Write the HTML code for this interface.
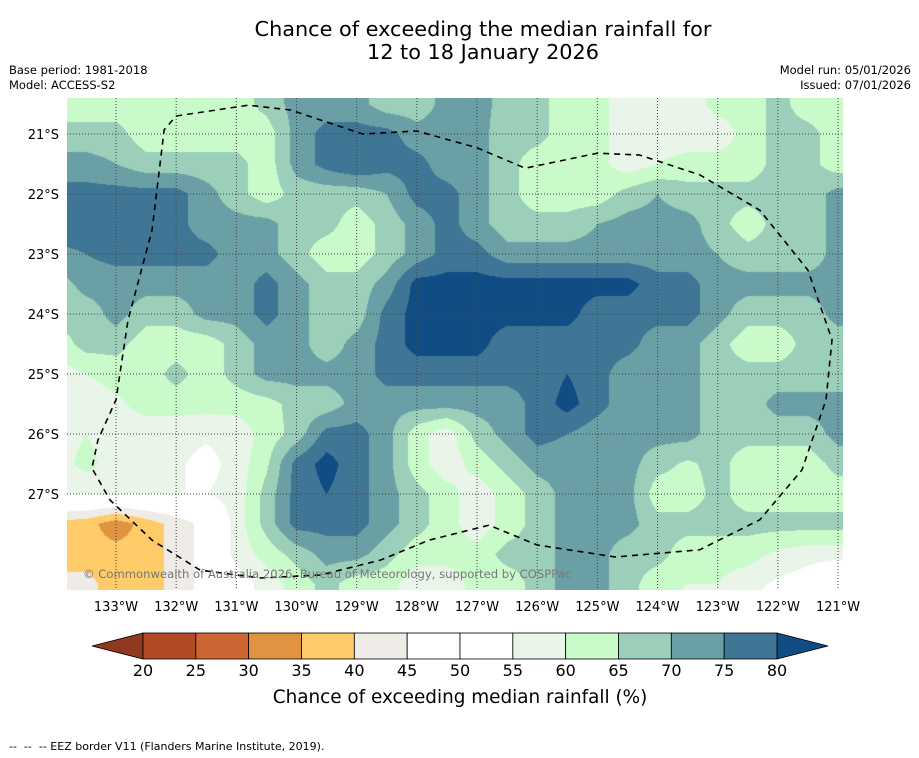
<!DOCTYPE html>
<html><head><meta charset="utf-8">
<style>
body{margin:0;background:#fff;font-family:"DejaVu Sans","Liberation Sans",sans-serif;}
#root{position:relative;width:919px;height:758px;overflow:hidden;background:#fff;}
.t{position:absolute;white-space:nowrap;color:#000;}
</style></head>
<body>
<div id="root">
<div class="t" style="left:0;width:966px;top:18px;text-align:center;font-size:20.8px;line-height:23px;">Chance of exceeding the median rainfall for<br>12 to 18 January 2026</div>
<div class="t" style="left:9px;top:63px;font-size:11.5px;">Base period: 1981-2018</div>
<div class="t" style="left:9px;top:78px;font-size:11.5px;">Model: ACCESS-S2</div>
<div class="t" style="right:8px;top:63px;font-size:11.5px;text-align:right;">Model run: 05/01/2026</div>
<div class="t" style="right:8px;top:78px;font-size:11.5px;text-align:right;">Issued: 07/01/2026</div>
<canvas id="map" width="776" height="492" style="position:absolute;left:67px;top:98px;"></canvas>
<svg id="ov" width="919" height="758" style="position:absolute;left:0;top:0;"></svg>
<div class="t" style="left:9px;top:740px;font-size:11px;">--&nbsp; --&nbsp; -- EEZ border V11 (Flanders Marine Institute, 2019).</div>
</div>
<script>
const lonVals=[-134,-133.5,-133,-132.5,-132,-131.5,-131,-130.5,-130,-129.5,-129,-128.5,-128,-127.5,-127,-126.5,-126,-125.5,-125,-124.5,-124,-123.5,-123,-122.5,-122,-121.5,-121,-120.5];
const latVals=[-20,-20.5,-21,-21.5,-22,-22.5,-23,-23.5,-24,-24.5,-25,-25.5,-26,-26.5,-27,-27.5,-28,-28.5,-29];
const gridValues=[
[62,62,62,62,62,62,62,67,72,72,72,67,67,72,72,68,67,62,62,57,57,57,62,62,67,62,62,62],
[62,62,62,62,62,62,62,67,72,72,72,67,67,72,72,68,67,62,62,57,57,57,62,62,67,62,62,62],
[67,67,67,62,62,62,62,62,72,77,77,77,72,72,72,67,67,62,62,57,57,57,57,62,67,67,62,62],
[72,72,70,67,67,67,67,62,72,77,80,77,77,72,72,67,62,62,62,57,60,62,62,62,67,67,62,62],
[77,77,77,77,77,72,67,62,67,67,67,70,77,77,72,67,62,62,62,67,70,67,67,67,67,67,72,72],
[77,77,77,77,77,72,72,72,67,67,62,67,72,77,72,67,67,67,70,72,72,72,67,62,67,67,72,72],
[74,75,77,77,77,77,72,72,67,62,62,67,72,77,77,72,72,72,72,72,72,72,70,67,67,67,72,72],
[67,72,72,72,72,72,72,77,72,67,67,72,82,82,82,82,82,82,82,82,77,77,72,72,72,72,72,72],
[67,67,72,67,67,72,72,77,72,67,67,77,82,82,82,82,82,82,77,77,77,77,72,67,67,67,72,72],
[62,67,67,62,62,62,67,72,72,67,72,77,82,82,82,77,77,77,77,77,72,72,67,62,62,67,67,67],
[57,60,62,62,67,62,67,72,72,72,72,77,77,77,77,77,77,80,77,72,72,72,67,67,67,67,67,67],
[57,57,59,62,62,62,62,63,67,67,72,72,72,72,72,72,77,82,77,72,72,72,67,67,72,72,72,72],
[57,60,57,57,57,56,57,62,67,77,77,72,62,57,67,72,77,75,72,72,72,72,67,67,67,67,72,72],
[57,62,57,57,56,53,57,64,77,82,77,72,62,57,62,67,72,72,72,72,67,64,67,62,62,62,67,67],
[55,55,55,55,55,55,57,67,77,80,77,72,67,62,57,62,67,72,72,72,62,62,67,62,62,62,62,62],
[38,37,32,37,42,47,57,67,77,77,77,72,67,62,57,62,67,72,72,72,67,67,67,67,67,67,67,67],
[37,37,37,37,42,47,57,62,67,72,72,67,62,62,62,67,67,72,72,67,67,62,62,62,59,57,57,57],
[42,42,37,37,42,47,52,57,62,67,62,62,57,57,62,62,67,72,72,67,62,60,60,57,54,52,47,47],
[42,42,37,37,42,47,52,57,62,67,62,62,57,57,62,62,67,72,72,67,62,57,57,52,52,52,47,47]
];
const levels=[20,25,30,35,40,45,50,55,60,65,70,75,80];
const levelColors=['#8f3a1f','#b14a25','#cd6633','#e09442','#fecb68','#efebe6','#ffffff','#ffffff','#eaf5e9','#c9fbca','#9bcfb9','#6aa0a5','#3f7696','#124c85'];
const lonTicks=[-133,-132,-131,-130,-129,-128,-127,-126,-125,-124,-123,-122,-121];
const latTicks=[-21,-22,-23,-24,-25,-26,-27];
const cbTicks=[20,25,30,35,40,45,50,55,60,65,70,75,80];
const eezLon=[-132,-130.8,-130.1,-128.9,-128,-127,-126.2,-125,-124.3,-123.3,-122.3,-121.5,-121.1,-121.2,-121.6,-122.3,-123.3,-124.7,-126,-126.8,-127.8,-128.6,-129.6,-130.6,-131.6,-132.4,-133.1,-133.4,-133.3,-133,-132.8,-132.4,-132.2,-132];
const eezLat=[-20.7,-20.52,-20.6,-21,-20.95,-21.23,-21.57,-21.32,-21.35,-21.68,-22.27,-23.27,-24.43,-25.43,-26.6,-27.43,-27.93,-28.05,-27.85,-27.52,-27.77,-28.1,-28.35,-28.4,-28.27,-27.77,-27.1,-26.57,-26.1,-25.43,-24.1,-22.6,-20.93,-20.7];
const X0=67,Y0=98,W=776,H=492;
function xOf(lon){return 116+(lon+133)*60.17;}
function yOf(lat){return 134+(-21-lat)*60;}
function lonOf(x){return (x-116)/60.17-133;}
function latOf(y){return -21-(y-134)/60;}
function sample(lon,lat){
  let fi=(lon-lonVals[0])/0.5, fj=(latVals[0]-lat)/0.5;
  fi=Math.max(0,Math.min(lonVals.length-1.001,fi));fj=Math.max(0,Math.min(latVals.length-1.001,fj));
  const i=Math.floor(fi),j=Math.floor(fj),a=fi-i,b=fj-j;
  const g=gridValues;
  return g[j][i]*(1-a)*(1-b)+g[j][i+1]*a*(1-b)+g[j+1][i]*(1-a)*b+g[j+1][i+1]*a*b;
}
const cv=document.getElementById('map'),ctx=cv.getContext('2d');
const img=ctx.createImageData(W,H);
function hex(c){return [parseInt(c.substr(1,2),16),parseInt(c.substr(3,2),16),parseInt(c.substr(5,2),16)];}
const rgbs=levelColors.map(hex);
for(let py=0;py<H;py++){for(let px=0;px<W;px++){
  const v=sample(lonOf(px+X0+0.5),latOf(py+Y0+0.5));
  let k=0;while(k<levels.length&&v>=levels[k])k++;
  const c=rgbs[k],o=(py*W+px)*4;img.data[o]=c[0];img.data[o+1]=c[1];img.data[o+2]=c[2];img.data[o+3]=255;}}
ctx.putImageData(img,0,0);
const NS='http://www.w3.org/2000/svg',ov=document.getElementById('ov');
const FF='DejaVu Sans, Liberation Sans, sans-serif';
function el(t,at,txt){const e=document.createElementNS(NS,t);for(const k in at)e.setAttribute(k,at[k]);if(txt!==undefined)e.textContent=txt;ov.appendChild(e);return e;}
lonTicks.forEach(l=>{const x=xOf(l);
  const g=el('line',{x1:x,x2:x,y1:Y0,y2:Y0+H,stroke:'#444','stroke-width':1,'stroke-dasharray':'1,2'});
  
  
  const t=el('text',{x:x,y:611,'text-anchor':'middle','font-size':13,'font-family':FF},(-l)+'°W');
  
  });
latTicks.forEach(l=>{const y=yOf(l);
  const g=el('line',{x1:X0,x2:X0+W,y1:y,y2:y,stroke:'#444','stroke-width':1,'stroke-dasharray':'1,2'});
  
  
  const t=el('text',{x:59,y:y+5,'text-anchor':'end','font-size':13,'font-family':FF},(-l)+'°S');
  
  });
const eez=el('polyline',{points:eezLon.map((l,i)=>xOf(l)+','+yOf(eezLat[i])).join(' '),fill:'none',stroke:'#000','stroke-width':1.6,'stroke-dasharray':'6,5'});


const cp=el('text',{x:83,y:578,'font-size':11.6,fill:'#777','font-family':FF},'© Commonwealth of Australia 2026, Bureau of Meteorology, supported by COSPPac');


const cbX=143,cbW=634,cbY=633,cbH=26,seg=cbW/(levels.length-1);
function cbx(v){return cbX+(v-levels[0])/(levels[levels.length-1]-levels[0])*cbW;}
const le=el('polygon',{points:`92,${cbY+cbH/2} ${cbX},${cbY} ${cbX},${cbY+cbH}`,fill:levelColors[0],stroke:'#000','stroke-width':0.8});


const re=el('polygon',{points:`${cbX+cbW},${cbY} 828,${cbY+cbH/2} ${cbX+cbW},${cbY+cbH}`,fill:levelColors[levelColors.length-1],stroke:'#000','stroke-width':0.8});


for(let i=0;i<levels.length-1;i++){
  const r=el('rect',{x:cbx(levels[i]),y:cbY,width:seg,height:cbH,fill:levelColors[i+1],stroke:'#000','stroke-width':0.8});
  
  }
cbTicks.forEach(v=>{const t=el('text',{x:cbx(v),y:676,'text-anchor':'middle','font-size':16,'font-family':FF},String(v));
  
  });
const ct=el('text',{x:460,y:703,'text-anchor':'middle','font-size':18.4,'font-family':FF},'Chance of exceeding median rainfall (%)');


</script>
</body></html>
